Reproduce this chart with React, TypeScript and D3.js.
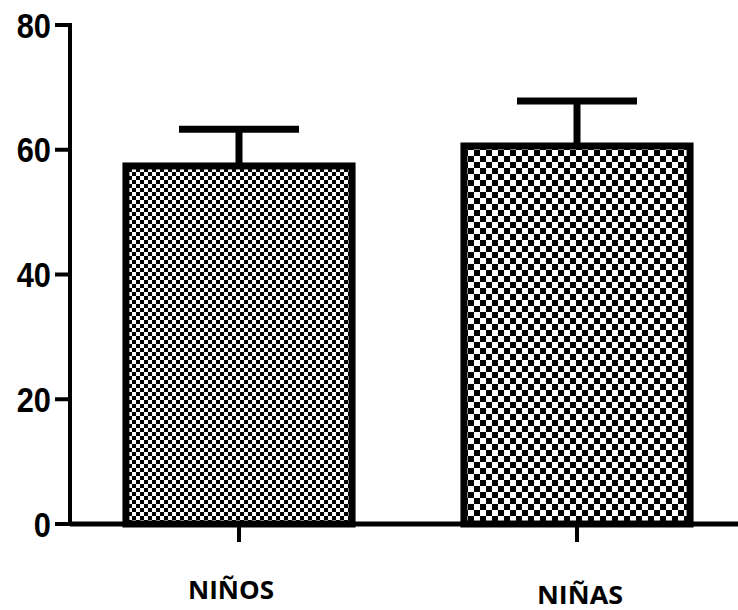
import React from "react";
import * as d3 from "d3";

const categories = ["NIÑOS", "NIÑAS"];
const means = [57.4, 60.6];
const errors = [5.9, 7.2];
const yTicks = [0, 20, 40, 60, 80];
const cellSizes = [4, 6];
const labelDy = [0, 5];
const labelDx = [-8, 3];

const W = 738;
const H = 610;
const x0 = 70;
const yBase = 524;
const yTop = 25;

export default function App() {
  const y = d3.scaleLinear().domain([0, 80]).range([yBase, yTop]);
  const x = d3
    .scaleBand<string>()
    .domain(categories)
    .range([x0, 746])
    .paddingInner(0.331)
    .paddingOuter(0.1655);
  const bw = x.bandwidth();
  const sw = 7;

  return (
    <svg
      width={W}
      height={H}
      style={{ position: "absolute", left: 0, top: 0, background: "#fff" }}
    >
      <defs>
        {cellSizes.map((c, i) => (
          <pattern
            key={i}
            id={`chk${i}`}
            patternUnits="userSpaceOnUse"
            width={c * 2}
            height={c * 2}
          >
            <rect width={c * 2} height={c * 2} fill="#fff" />
            <rect width={c} height={c} fill="#000" />
            <rect x={c} y={c} width={c} height={c} fill="#000" />
          </pattern>
        ))}
      </defs>

      {categories.map((cat, i) => {
        const cx = (x(cat) as number) + bw / 2;
        const top = y(means[i]);
        const errY = y(means[i] + errors[i]);
        return (
          <g key={cat}>
            <line x1={cx} x2={cx} y1={top} y2={errY} stroke="#000" strokeWidth={sw} />
            <line x1={cx - 60} x2={cx + 60} y1={errY} y2={errY} stroke="#000" strokeWidth={sw} />
            <rect
              x={x(cat) as number}
              y={top}
              width={bw}
              height={yBase - top}
              fill={`url(#chk${i})`}
              stroke="#000"
              strokeWidth={sw}
            />
          </g>
        );
      })}

      {/* y axis */}
      <line x1={x0} x2={x0} y1={y(80) - 2} y2={yBase + 2} stroke="#000" strokeWidth={4} />
      {yTicks.map((t) => (
        <g key={t}>
          <line x1={55} x2={x0} y1={y(t)} y2={y(t)} stroke="#000" strokeWidth={4} />
          <text
            x={51}
            y={y(t)}
            dy="0.36em"
            textAnchor="end"
            fontFamily="'Liberation Sans', Arial, sans-serif"
            fontWeight="bold"
            fontSize={35}
            fill="#000"
            transform={`translate(51,0) scale(0.88,1) translate(-51,0)`}
          >
            {t}
          </text>
        </g>
      ))}

      {/* x axis */}
      <line x1={x0} x2={W} y1={yBase} y2={yBase} stroke="#000" strokeWidth={5} />
      {categories.map((cat, i) => {
        const cx = (x(cat) as number) + bw / 2;
        return (
          <g key={cat}>
            <line x1={cx} x2={cx} y1={yBase} y2={542} stroke="#000" strokeWidth={4} />
            <text
              x={cx + labelDx[i]}
              y={599 + labelDy[i]}
              textAnchor="middle"
              fontFamily="'Open Sans', sans-serif"
              fontWeight="bold"
              fontSize={25}
              textLength={86}
              lengthAdjust="spacingAndGlyphs"
              fill="#000"
            >
              {cat}
            </text>
          </g>
        );
      })}
    </svg>
  );
}
